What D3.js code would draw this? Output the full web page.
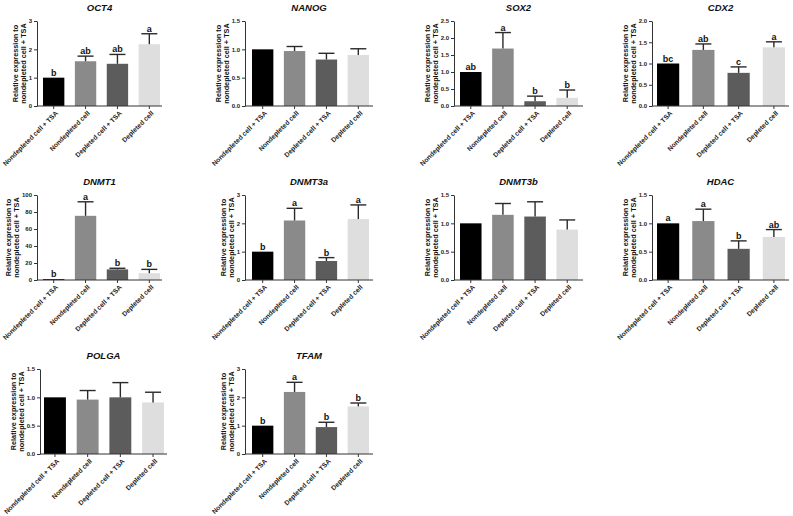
<!DOCTYPE html>
<html><head><meta charset="utf-8">
<script src="https://cdn.jsdelivr.net/npm/d3@7"></script>
<style>
body{margin:0;background:#fff}
svg{display:block}
text{font-family:"Liberation Sans",Arial,Helvetica,sans-serif}
</style>
</head><body>
<svg id="chart" width="793" height="516"></svg>
<script>
// ---- data ----
const categories = ["Nondepleted cell + TSA", "Nondepleted cell", "Depleted cell + TSA", "Depleted cell"];
const genes = ["OCT4", "NANOG", "SOX2", "CDX2", "DNMT1", "DNMT3a", "DNMT3b", "HDAC", "POLGA", "TFAM"];
const means = [
  [1.0, 1.58, 1.49, 2.18],
  [1.0, 0.97, 0.82, 0.90],
  [1.0, 1.69, 0.14, 0.24],
  [1.0, 1.32, 0.78, 1.38],
  [1.0, 75.5, 12.5, 8.0],
  [1.0, 2.10, 0.67, 2.15],
  [1.0, 1.15, 1.12, 0.89],
  [1.0, 1.04, 0.55, 0.76],
  [1.0, 0.96, 1.00, 0.91],
  [1.0, 2.19, 0.95, 1.68]
];
const errors = [
  [0, 0.18, 0.33, 0.37],
  [0, 0.08, 0.11, 0.11],
  [0, 0.47, 0.15, 0.23],
  [0, 0.14, 0.14, 0.13],
  [0, 16.5, 1.3, 4.5],
  [0, 0.43, 0.12, 0.50],
  [0, 0.20, 0.26, 0.17],
  [0, 0.21, 0.14, 0.13],
  [0, 0.16, 0.26, 0.18],
  [0, 0.34, 0.17, 0.12]
];
const letters = [
  ["b", "ab", "ab", "a"],
  ["", "", "", ""],
  ["ab", "a", "b", "b"],
  ["bc", "ab", "c", "a"],
  ["b", "a", "b", "b"],
  ["b", "a", "b", "a"],
  ["", "", "", ""],
  ["a", "a", "b", "ab"],
  ["", "", "", ""],
  ["b", "a", "b", "b"]
];
const yMaxes = [3, 1.5, 2.5, 2.0, 100, 3, 1.5, 1.5, 1.5, 3];
const yTickSteps = [1, 0.5, 0.5, 0.5, 20, 1, 0.5, 0.5, 0.5, 1];
const yTitleLines = ["Relative expression to", "nondepleted cell + TSA"];
const barColors = ["#000000", "#8a8a8a", "#5c5c5c", "#dedede"];

// ---- layout (pixel positions of each panel) ----
const cols = [
  {x0: 37, b0: 43, b1: 160, x1: 162, pad: 0.33},
  {x0: 245, b0: 252, b1: 369, x1: 373, pad: 0.33},
  {x0: 454, b0: 460, b1: 578, x1: 583, pad: 0.33},
  {x0: 652, b0: 657, b1: 785, x1: 789, pad: 0.37}
];
const rows = [{top: 21, bottom: 106}, {top: 195, bottom: 280}, {top: 369, bottom: 454}];
const layout = genes.map((g, i) => {
  const c = Object.assign({}, cols[i % 4]);
  if (i === 8) { c.x0 = 40; c.b0 = 44; c.b1 = 164; c.x1 = 167; }
  return Object.assign(c, rows[Math.floor(i / 4)]);
});

const svg = d3.select("#chart");
const axisColor = "#333";

genes.forEach((gene, i) => {
  const L = layout[i];
  const g = svg.append("g");
  const x = d3.scaleBand().domain(categories).range([L.b0, L.b1]).paddingInner(L.pad).paddingOuter(0);
  const y = d3.scaleLinear().domain([0, yMaxes[i]]).range([L.bottom, L.top]);
  const step = yTickSteps[i];
  const ticks = d3.range(0, yMaxes[i] + step / 2, step);
  const fmt = step < 1 ? d3.format(".1f") : d3.format("d");

  // bars
  const rowData = categories.map((c, j) => ({c, j, m: means[i][j], e: errors[i][j], l: letters[i][j]}));
  g.selectAll("rect.bar").data(rowData).join("rect")
    .attr("x", d => x(d.c)).attr("width", x.bandwidth())
    .attr("y", d => y(d.m)).attr("height", d => y(0) - y(d.m))
    .attr("fill", d => barColors[d.j]);

  // error bars (upper only)
  const eb = rowData.filter(d => d.e > 0);
  const cap = 8;
  g.selectAll("line.ev").data(eb).join("line")
    .attr("x1", d => x(d.c) + x.bandwidth() / 2).attr("x2", d => x(d.c) + x.bandwidth() / 2)
    .attr("y1", d => y(d.m)).attr("y2", d => y(d.m + d.e))
    .attr("stroke", "#2a2a2a").attr("stroke-width", 1.4);
  g.selectAll("line.ec").data(eb).join("line")
    .attr("x1", d => x(d.c) + x.bandwidth() / 2 - cap).attr("x2", d => x(d.c) + x.bandwidth() / 2 + cap)
    .attr("y1", d => y(d.m + d.e)).attr("y2", d => y(d.m + d.e))
    .attr("stroke", "#2a2a2a").attr("stroke-width", 1.4);

  // significance letters
  g.selectAll("text.sig").data(rowData.filter(d => d.l)).join("text")
    .attr("x", d => x(d.c) + x.bandwidth() / 2)
    .attr("y", d => y(d.m + d.e) - 2)
    .attr("text-anchor", "middle")
    .attr("font-size", 9).attr("font-weight", "bold").attr("fill", "#111")
    .text(d => d.l);

  // y axis
  const yAx = g.append("g").attr("transform", `translate(${L.x0},0)`)
    .call(d3.axisLeft(y).tickValues(ticks).tickFormat(fmt).tickSize(3).tickPadding(2).tickSizeOuter(0));
  yAx.select(".domain").attr("stroke", axisColor).attr("stroke-width", 1);
  yAx.selectAll(".tick line").attr("stroke", axisColor).attr("stroke-width", 1);
  yAx.selectAll(".tick text").attr("font-size", 6).attr("font-weight", "bold").attr("fill", "#222")
    .attr("font-family", "Liberation Sans, Arial, sans-serif");
  let w = 0;
  yAx.selectAll(".tick text").each(function () { w = Math.max(w, this.getBBox().width); });

  // x axis
  const xAx = g.append("g").attr("transform", `translate(0,${L.bottom})`)
    .call(d3.axisBottom(x).tickSize(3).tickSizeOuter(0));
  xAx.select(".domain").attr("d", `M${L.x0},0H${L.x1}`).attr("stroke", axisColor).attr("stroke-width", 1);
  xAx.selectAll(".tick line").attr("stroke", axisColor).attr("stroke-width", 1);
  xAx.selectAll(".tick text")
    .attr("x", 0).attr("y", 0).attr("dy", "0.35em")
    .attr("transform", "translate(3,6) rotate(-45)")
    .attr("text-anchor", "end")
    .attr("font-size", 6.7).attr("font-weight", "bold").attr("fill", "#222")
    .attr("font-family", "Liberation Sans, Arial, sans-serif");

  // y title
  const base2 = L.x0 - 3 - 2 - w - 2;
  const cy = (L.top + L.bottom) / 2;
  yTitleLines.forEach((line, k) => {
    g.append("text")
      .attr("transform", `translate(${base2 - (1 - k) * 8.3},${cy}) rotate(-90)`)
      .attr("text-anchor", "middle")
      .attr("font-size", 7.3).attr("font-weight", "bold").attr("fill", "#111")
      .text(line);
  });

  // panel title
  g.append("text")
    .attr("x", (L.x0 + L.x1) / 2).attr("y", L.top - 10)
    .attr("text-anchor", "middle")
    .attr("font-size", 9.5).attr("font-weight", "bold").attr("font-style", "italic").attr("fill", "#111")
    .text(gene);
});
</script>
</body></html>
